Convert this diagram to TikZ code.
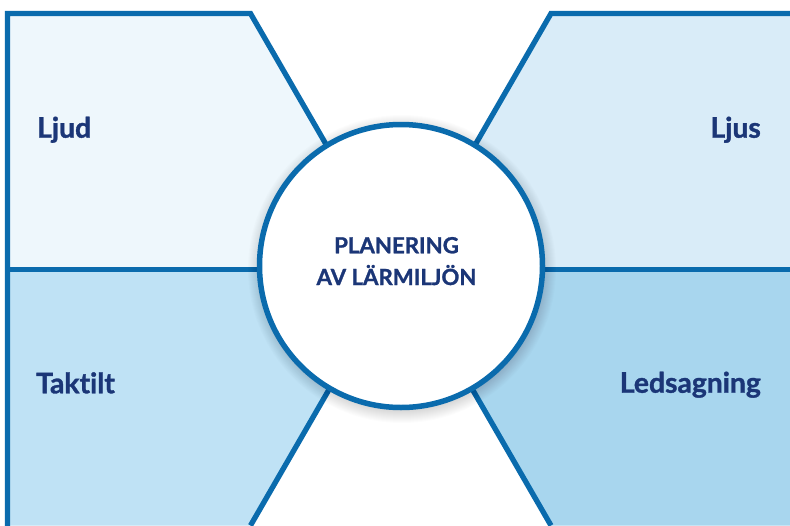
\documentclass[tikz,border=0pt]{standalone}
\usepackage{fontspec}
\setmainfont{Lato}[Ligatures=NoCommon,BoldFeatures={FakeBold=1.2}]
\definecolor{edge}{HTML}{0A6BAD}
\definecolor{ink}{HTML}{1B3677}
\definecolor{fillA}{HTML}{EEF7FC}
\definecolor{fillB}{HTML}{D9ECF8}
\definecolor{fillC}{HTML}{BFE2F5}
\definecolor{fillD}{HTML}{A8D6EE}
\begin{document}
\begin{tikzpicture}[x=1pt,y=-1pt,
  edgeline/.style={draw=edge,line width=5.3pt,line join=miter},
  lbl/.style={inner sep=0pt,text=ink,font=\fontsize{28.3}{32}\selectfont\bfseries},
  titletext/.style={inner sep=0pt,text=ink,anchor=base,font=\fontsize{22.2}{26}\selectfont\bfseries},
  hub/.style={circle,draw=edge,line width=5.5pt,fill=white,minimum size=283pt,inner sep=0pt}]
\useasboundingbox (0,0) rectangle (790,525);
\clip (0,0) rectangle (790,525);
\fill[white] (0,0) rectangle (790,525);

% corner points of the four panels
\coordinate (tl) at (250.5,13.5);
\coordinate (tr) at (551,13.5);
\coordinate (bl) at (250.5,525.5);
\coordinate (br) at (551,525.5);
\coordinate (ml) at (398.3,269.5);
\coordinate (mr) at (403.2,269.5);

% panel fills
\fill[fillA] (7.5,13.5) -- (tl) -- (ml) -- (7.5,269.5) -- cycle;
\fill[fillB] (tr) -- (800,13.5) -- (800,269.5) -- (mr) -- cycle;
\fill[fillC] (7.5,269.5) -- (ml) -- (bl) -- (7.5,525.5) -- cycle;
\fill[fillD] (mr) -- (800,269.5) -- (800,525.5) -- (br) -- cycle;

% panel outlines
\draw[edgeline] (7.5,540) -- (7.5,13.5) -- (tl) -- (ml);
\draw[edgeline] (800,13.5) -- (tr) -- (mr);
\draw[edgeline] (7.5,269.5) -- (800,269.5);
\draw[edgeline] (bl) -- (ml);
\draw[edgeline] (br) -- (mr);

% soft shadow under the central disc
\foreach \k in {1,...,16}
  \fill[black,opacity=0.012] (402,269) circle[radius=138pt+\k pt];

% central disc
\node[hub] (hub) at (401,266) {};
\node[titletext] (title1) at (396.5,253.3) {PLANERING};
\node[titletext] (title2) at (396.5,285) {AV LÄRMILJÖN};

% panel labels
\node[lbl,anchor=base west] (ljud) at (37,137.7) {Ljud};
\node[lbl,anchor=base east] (ljus) at (761,137.7) {Ljus};
\node[lbl,anchor=base west] (taktilt) at (36,393.3) {Taktilt};
\node[lbl,anchor=base east] (leds) at (761,392.7) {Ledsagning};
\end{tikzpicture}
\end{document}
